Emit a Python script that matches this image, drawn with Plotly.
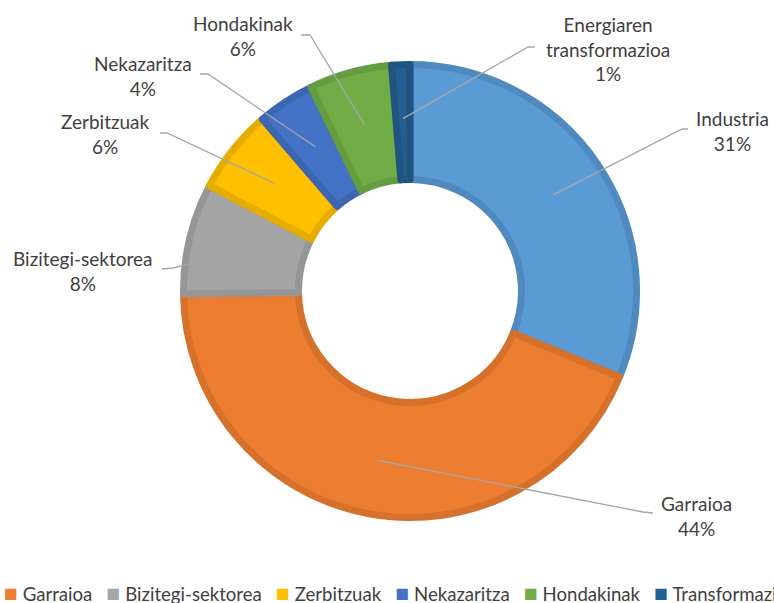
import math
import plotly.graph_objects as go

# sectors, clockwise from 12 o'clock (values in %)
sectors = ["Industria", "Garraioa", "Bizitegi-sektorea", "Zerbitzuak",
           "Nekazaritza", "Hondakinak", "Energiaren transformazioa"]
shares = [31.2, 43.6, 7.9, 6.0, 4.1, 5.9, 1.3]
label_text = ["Industria", "Garraioa", "Bizitegi-sektorea", "Zerbitzuak",
              "Nekazaritza", "Hondakinak", "Energiaren<br>transformazioa"]
fills = ["#5B9BD5", "#ED7D31", "#A5A5A5", "#FFC000", "#4472C4", "#70AD47", "#255E91"]
edges = ["#4F89BE", "#D6712C", "#969696", "#E6AD00", "#3D66B0", "#649C40", "#21557F"]

# legend row as shown (clipped at both ends in the original)
legend_names = ["Garraioa", "Bizitegi-sektorea", "Zerbitzuak", "Nekazaritza",
                "Hondakinak", "Transformazioa"]
legend_colors = ["#ED7D31", "#A5A5A5", "#FFC000", "#4472C4", "#70AD47", "#255E91"]

W, H = 774, 603
FONT = "Lato, 'Open Sans', sans-serif"
TXT = "#404040"

cx, cy = 410, 291          # donut centre (px)
r_out, r_in = 230, 115     # visible outer/inner radius (px)
lw = 7                     # slice border width
r_pie = r_out - lw / 2


def px(x):
    return x / W


def py(y):
    return 1 - y / H


fig = go.Figure()
fig.add_trace(go.Pie(
    labels=sectors, values=shares, sort=False, direction="clockwise",
    rotation=0, hole=(r_in - lw / 2) / r_pie,
    marker=dict(colors=fills, line=dict(color=edges, width=lw)),
    textinfo="none", hoverinfo="label+percent", showlegend=False,
    domain=dict(x=[px(cx - r_pie), px(cx + r_pie)],
                y=[py(cy + r_pie), py(cy - r_pie)]),
))

# label placement: text centre, elbow of leader line, end of leader line
label_pos = [(732, 131), (696, 516), (83, 271), (105, 134), (143, 76), (243, 36), (608, 49)]
elbows = [(682, 129), (643, 512), (173, 268), (167, 133), (208, 74), (310, 35), (528, 47)]
ends = [(688, 129), (653, 513), (162, 269), (160, 133), (200, 74), (301, 35), (535, 47)]

total = sum(shares)
cum = 0
r_mid = (r_out + r_in) / 2
for i, v in enumerate(shares):
    mid = (cum + v / 2) / total * 2 * math.pi
    cum += v
    sx = cx + r_mid * math.sin(mid)
    sy = cy - r_mid * math.cos(mid)
    ex, ey = elbows[i]
    tx, ty = ends[i]
    fig.add_shape(type="path", xref="paper", yref="paper",
                  path=f"M {px(sx)} {py(sy)} L {px(ex)} {py(ey)} L {px(tx)} {py(ty)}",
                  line=dict(color="#A6A6A6", width=1.3))
    lx, ly = label_pos[i]
    fig.add_annotation(x=px(lx), y=py(ly), xref="paper", yref="paper",
                       text=f"{label_text[i]}<br>{round(v / total * 100)}%",
                       showarrow=False, xanchor="center", yanchor="middle",
                       font=dict(family=FONT, size=19, color=TXT))

legend_html = "&nbsp;&nbsp;&nbsp;".join(
    f"<span style='color:{c};font-size:23px'>■</span>&nbsp;{n}"
    for n, c in zip(legend_names, legend_colors))
fig.add_annotation(x=px(2), y=py(592), xref="paper", yref="paper",
                   text=legend_html, showarrow=False, xanchor="left", yanchor="middle",
                   font=dict(family=FONT, size=18.6, color=TXT))

fig.update_layout(
    width=W, height=H,
    margin=dict(l=0, r=0, t=0, b=0),
    paper_bgcolor="white", plot_bgcolor="white",
)

fig.write_html("out.html", config={"displayModeBar": False},
               post_script="document.body.style.margin='0';")
